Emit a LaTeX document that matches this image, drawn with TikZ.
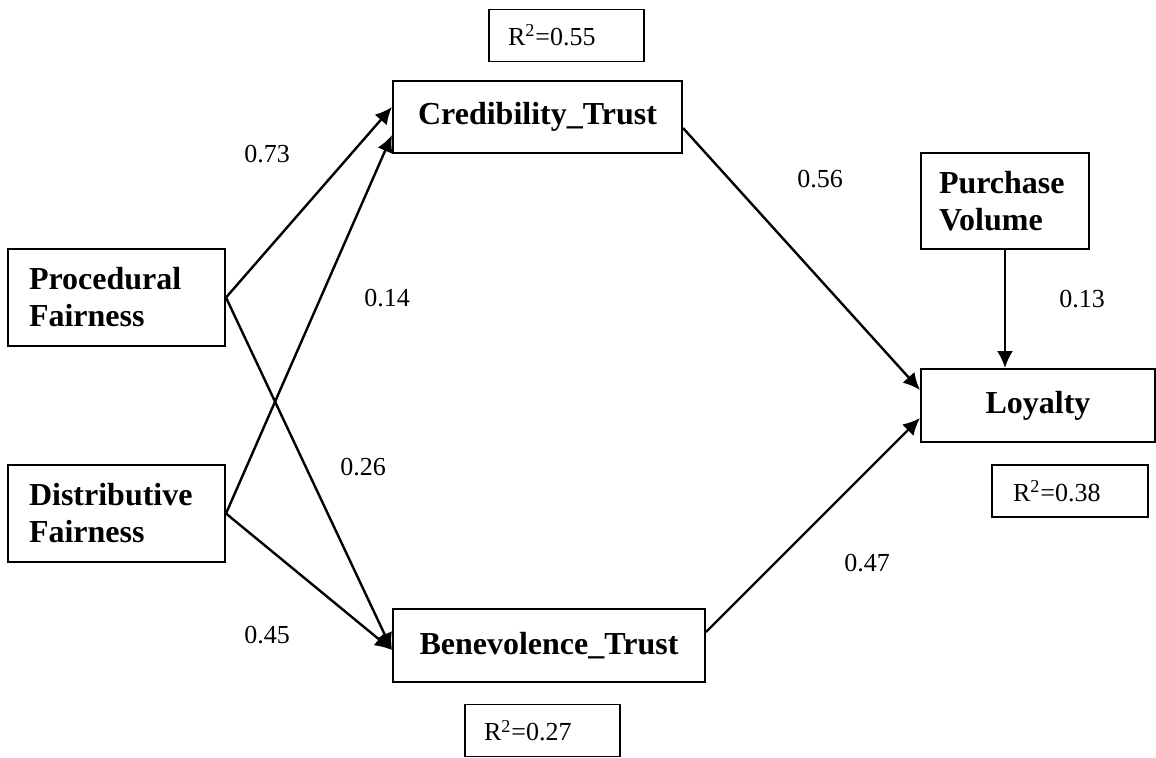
\documentclass[tikz,border=0pt]{standalone}
\usepackage{fontspec}
\setmainfont{Liberation Serif}
\usepackage{tikz}
\usetikzlibrary{arrows,arrows.meta,positioning}

\begin{document}
\begin{tikzpicture}[x=0.5pt,y=-0.5pt]
\tikzstyle{construct}=[rectangle, draw=black, line width=1pt, inner sep=0pt,
	font=\fontsize{16}{18.5}\selectfont\bfseries,
]
\tikzstyle{rsq}=[rectangle, draw=black, line width=0.75pt, inner ysep=0pt,
	inner xsep=9.5pt, text width=58.5pt, align=left,
	minimum width=77.5pt, minimum height=26pt,
	font=\fontsize{13}{15}\selectfont,
]
\tikzstyle{coef}=[inner sep=0pt, font=\fontsize{13}{15}\selectfont]
\tikzstyle{link}=[-{Latex[length=8.5pt,width=8pt]}, line width=1.2pt]
\useasboundingbox (0,0) rectangle (1156,757);
\node[rsq] (r55) at (566.5,35.5) {R\textsuperscript{2}=0.55};
\node[construct, minimum width=144.5pt, minimum height=36pt, align=center] (cred) at (537.5,117) {Credibility\_Trust};
\node[construct, minimum width=108.5pt, minimum height=48.5pt, inner xsep=10.5pt, text width=87.5pt, align=left] (proc) at (116.5,297.5) {Procedural\\Fairness};
\node[construct, minimum width=108.5pt, minimum height=48.5pt, inner xsep=10.5pt, text width=87.5pt, align=left] (dist) at (116.5,513.5) {Distributive\\Fairness};
\node[construct, minimum width=156pt, minimum height=36.5pt, align=center] (bene) at (549,645.5) {Benevolence\_Trust};
\node[rsq] (r27) at (542.5,730.5) {R\textsuperscript{2}=0.27};
\node[construct, minimum width=84pt, minimum height=48pt, inner xsep=9pt, text width=66pt, align=left] (pv) at (1005,201) {Purchase\\Volume};
\node[construct, minimum width=117pt, minimum height=36.5pt, align=center] (loy) at (1038,405.5) {Loyalty};
\node[rsq, inner xsep=10.5pt, text width=57pt, minimum width=78pt] (r38) at (1070,491) {R\textsuperscript{2}=0.38};
\path[link] (proc.east) edge ([yshift=5pt]cred.west) ;
\path[link] (dist.east) edge ([yshift=-9pt]cred.west) ;
\path[link] (proc.east) edge ([yshift=-2.25pt]bene.west) ;
\path[link] (dist.east) edge ([yshift=-2.25pt]bene.west) ;
\path[link] ([yshift=-5.5pt]cred.east) edge ([yshift=7.75pt]loy.west) ;
\path[link] ([yshift=6.75pt]bene.east) edge ([yshift=-6.25pt]loy.west) ;
\path[link] (pv.south) edge (pv.south |- loy.north) ;
\node[coef] (c73) at (267,154) {0.73};
\node[coef] (c14) at (387,298) {0.14};
\node[coef] (c26) at (363,467) {0.26};
\node[coef] (c45) at (267,635) {0.45};
\node[coef] (c56) at (820,179) {0.56};
\node[coef] (c47) at (867,563) {0.47};
\node[coef] (c13) at (1082,299) {0.13};

\end{tikzpicture}
\end{document}
